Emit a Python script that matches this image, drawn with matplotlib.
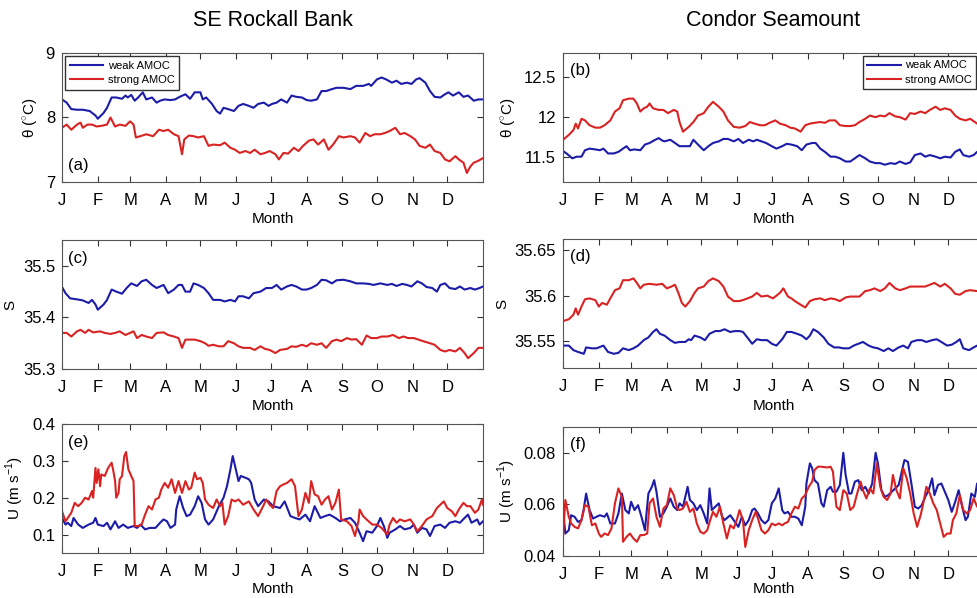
import matplotlib
matplotlib.use("Agg")
import matplotlib.pyplot as plt
from matplotlib.ticker import FuncFormatter

plt.rcParams["font.family"] = ["Liberation Sans", "DejaVu Sans"]
plt.rcParams["mathtext.fontset"] = "custom"
plt.rcParams["mathtext.rm"] = "Liberation Sans"

# month starts (day of year) and labels
month_days = [0, 31, 59, 90, 120, 151, 181, 212, 243, 273, 304, 334]
month_labels = ["J", "F", "M", "A", "M", "J", "J", "A", "S", "O", "N", "D"]

# ---- SE Rockall Bank : (day, value) ----
rock_theta_weak = [(0, 8.28), (4, 8.23), (8, 8.13), (13, 8.12), (18, 8.12), (24, 8.10), (29, 8.03), (31, 7.98), (36, 8.07), (39, 8.15), (43, 8.31), (47, 8.31), (52, 8.29), (55, 8.34), (57, 8.31), (60, 8.35), (63, 8.26), (66, 8.31), (70, 8.39), (73, 8.28), (78, 8.31), (82, 8.23), (85, 8.26), (89, 8.28), (94, 8.27), (98, 8.28), (102, 8.32), (107, 8.36), (111, 8.29), (115, 8.39), (120, 8.39), (122, 8.28), (125, 8.31), (130, 8.21), (134, 8.10), (137, 8.06), (140, 8.15), (144, 8.13), (149, 8.10), (153, 8.18), (157, 8.21), (162, 8.18), (166, 8.15), (170, 8.21), (175, 8.23), (179, 8.18), (182, 8.21), (186, 8.23), (190, 8.28), (195, 8.23), (199, 8.34), (203, 8.32), (208, 8.31), (212, 8.27), (216, 8.26), (221, 8.28), (225, 8.41), (229, 8.41), (234, 8.44), (238, 8.46), (244, 8.46), (250, 8.44), (255, 8.49), (261, 8.49), (266, 8.52), (268, 8.49), (273, 8.59), (277, 8.62), (281, 8.59), (286, 8.54), (290, 8.57), (294, 8.52), (299, 8.54), (303, 8.52), (307, 8.59), (310, 8.61), (315, 8.54), (319, 8.41), (323, 8.32), (328, 8.31), (332, 8.36), (335, 8.39), (339, 8.34), (344, 8.39), (348, 8.32), (352, 8.34), (357, 8.26), (361, 8.28), (365, 8.28)]
rock_theta_strong = [(0, 7.84), (4, 7.89), (8, 7.81), (13, 7.89), (16, 7.92), (18, 7.84), (22, 7.89), (26, 7.89), (30, 7.86), (34, 7.87), (39, 7.89), (42, 8.00), (46, 7.86), (50, 7.89), (55, 7.87), (59, 7.94), (62, 7.89), (64, 7.69), (68, 7.71), (73, 7.74), (79, 7.71), (84, 7.81), (88, 7.79), (92, 7.81), (97, 7.74), (101, 7.71), (104, 7.43), (106, 7.66), (110, 7.72), (114, 7.71), (118, 7.69), (123, 7.71), (127, 7.56), (131, 7.58), (137, 7.57), (141, 7.61), (146, 7.53), (150, 7.50), (154, 7.45), (159, 7.48), (163, 7.45), (167, 7.50), (172, 7.43), (176, 7.45), (180, 7.48), (185, 7.43), (188, 7.35), (192, 7.45), (196, 7.44), (201, 7.53), (205, 7.48), (209, 7.56), (214, 7.64), (218, 7.66), (222, 7.58), (227, 7.66), (231, 7.50), (235, 7.58), (240, 7.71), (244, 7.69), (250, 7.71), (254, 7.69), (258, 7.61), (263, 7.76), (267, 7.71), (271, 7.74), (276, 7.74), (280, 7.76), (284, 7.79), (289, 7.84), (293, 7.74), (297, 7.76), (302, 7.71), (306, 7.66), (310, 7.56), (315, 7.53), (319, 7.58), (323, 7.48), (328, 7.45), (332, 7.35), (336, 7.32), (341, 7.40), (344, 7.35), (348, 7.30), (351, 7.14), (354, 7.24), (357, 7.30), (360, 7.32), (365, 7.37)]
rock_sal_weak = [(0, 35.459), (3, 35.447), (7, 35.437), (13, 35.435), (18, 35.433), (23, 35.428), (26, 35.434), (29, 35.425), (31, 35.415), (36, 35.425), (39, 35.434), (43, 35.454), (47, 35.45), (52, 35.446), (56, 35.457), (60, 35.466), (65, 35.461), (69, 35.47), (73, 35.473), (78, 35.463), (82, 35.457), (88, 35.463), (92, 35.447), (97, 35.454), (101, 35.463), (104, 35.463), (107, 35.45), (111, 35.45), (114, 35.466), (118, 35.463), (123, 35.457), (127, 35.447), (131, 35.434), (137, 35.434), (141, 35.431), (146, 35.434), (150, 35.431), (153, 35.441), (157, 35.441), (162, 35.437), (166, 35.447), (172, 35.45), (177, 35.457), (182, 35.457), (186, 35.463), (190, 35.454), (195, 35.46), (199, 35.463), (203, 35.46), (208, 35.454), (212, 35.454), (216, 35.457), (221, 35.463), (225, 35.473), (229, 35.472), (234, 35.466), (238, 35.472), (244, 35.473), (250, 35.47), (255, 35.466), (261, 35.466), (266, 35.465), (270, 35.463), (276, 35.466), (282, 35.463), (286, 35.465), (290, 35.461), (295, 35.465), (299, 35.463), (303, 35.46), (308, 35.47), (312, 35.466), (316, 35.459), (321, 35.457), (325, 35.45), (328, 35.463), (332, 35.466), (336, 35.457), (341, 35.455), (345, 35.46), (349, 35.454), (354, 35.457), (358, 35.454), (362, 35.457), (365, 35.46)]
rock_sal_strong = [(0, 35.37), (4, 35.37), (8, 35.363), (13, 35.373), (16, 35.376), (20, 35.37), (23, 35.376), (27, 35.371), (33, 35.373), (37, 35.37), (42, 35.368), (46, 35.37), (50, 35.373), (55, 35.366), (59, 35.37), (62, 35.373), (65, 35.36), (69, 35.366), (73, 35.363), (78, 35.36), (82, 35.37), (88, 35.371), (92, 35.366), (97, 35.363), (101, 35.36), (104, 35.341), (107, 35.357), (111, 35.357), (115, 35.357), (120, 35.354), (124, 35.35), (127, 35.345), (131, 35.347), (136, 35.344), (140, 35.344), (144, 35.354), (149, 35.35), (153, 35.344), (157, 35.341), (163, 35.341), (167, 35.337), (172, 35.344), (176, 35.339), (180, 35.337), (185, 35.331), (189, 35.337), (195, 35.339), (199, 35.344), (203, 35.343), (208, 35.347), (212, 35.344), (216, 35.35), (221, 35.347), (225, 35.35), (229, 35.341), (234, 35.354), (238, 35.357), (242, 35.354), (247, 35.36), (251, 35.357), (255, 35.358), (260, 35.347), (264, 35.365), (268, 35.36), (273, 35.36), (277, 35.363), (282, 35.363), (287, 35.366), (292, 35.36), (296, 35.363), (300, 35.36), (305, 35.36), (309, 35.357), (313, 35.354), (319, 35.35), (323, 35.347), (328, 35.337), (332, 35.334), (336, 35.337), (341, 35.334), (345, 35.341), (349, 35.331), (352, 35.321), (357, 35.331), (361, 35.341), (365, 35.341)]
rock_u_weak = [(0, 0.145), (3, 0.127), (5, 0.132), (8, 0.123), (10, 0.145), (14, 0.127), (18, 0.118), (23, 0.127), (27, 0.132), (29, 0.145), (31, 0.127), (36, 0.123), (39, 0.132), (42, 0.114), (46, 0.136), (49, 0.118), (53, 0.127), (57, 0.118), (62, 0.123), (65, 0.118), (68, 0.127), (72, 0.114), (76, 0.118), (81, 0.118), (85, 0.132), (88, 0.141), (91, 0.136), (94, 0.118), (98, 0.127), (99, 0.168), (102, 0.204), (105, 0.172), (108, 0.15), (111, 0.154), (115, 0.177), (118, 0.204), (121, 0.186), (124, 0.141), (127, 0.127), (131, 0.141), (136, 0.177), (140, 0.2), (143, 0.231), (146, 0.277), (148, 0.313), (150, 0.286), (153, 0.245), (155, 0.259), (159, 0.254), (162, 0.25), (164, 0.24), (167, 0.195), (170, 0.177), (175, 0.195), (179, 0.19), (183, 0.177), (189, 0.172), (193, 0.19), (198, 0.15), (202, 0.145), (206, 0.141), (211, 0.154), (215, 0.136), (219, 0.177), (224, 0.145), (228, 0.15), (232, 0.154), (237, 0.145), (241, 0.136), (245, 0.141), (250, 0.145), (254, 0.132), (258, 0.105), (261, 0.082), (264, 0.109), (269, 0.105), (273, 0.123), (276, 0.145), (279, 0.123), (282, 0.091), (284, 0.105), (289, 0.114), (293, 0.123), (297, 0.114), (302, 0.118), (305, 0.127), (308, 0.105), (312, 0.118), (316, 0.114), (319, 0.096), (323, 0.123), (328, 0.127), (332, 0.118), (336, 0.132), (341, 0.136), (345, 0.132), (349, 0.145), (352, 0.154), (355, 0.132), (360, 0.141), (362, 0.127), (365, 0.136)]
rock_u_strong = [(0, 0.163), (3, 0.136), (5, 0.145), (8, 0.159), (11, 0.186), (14, 0.177), (17, 0.186), (20, 0.2), (23, 0.195), (26, 0.218), (27, 0.2), (29, 0.281), (30, 0.24), (31.5, 0.277), (33, 0.231), (34, 0.263), (37, 0.259), (40, 0.281), (43, 0.295), (44.5, 0.272), (46, 0.245), (47, 0.2), (49, 0.213), (50, 0.25), (52, 0.259), (54, 0.313), (55.5, 0.324), (57.5, 0.277), (60, 0.259), (62, 0.245), (63, 0.123), (66, 0.123), (69, 0.127), (72, 0.154), (75, 0.177), (78, 0.168), (81, 0.195), (84, 0.2), (86, 0.222), (89, 0.24), (92, 0.227), (95, 0.25), (98, 0.213), (101, 0.245), (104, 0.213), (107, 0.245), (110, 0.222), (112, 0.227), (115, 0.268), (117, 0.25), (120, 0.254), (122, 0.24), (124, 0.195), (127, 0.181), (131, 0.172), (134, 0.195), (137, 0.177), (139, 0.186), (141, 0.127), (144, 0.15), (147, 0.195), (150, 0.19), (153, 0.195), (157, 0.181), (162, 0.19), (166, 0.168), (170, 0.15), (175, 0.181), (177, 0.195), (180, 0.181), (183, 0.172), (186, 0.218), (189, 0.231), (192, 0.236), (195, 0.24), (199, 0.25), (202, 0.231), (205, 0.15), (208, 0.168), (211, 0.213), (214, 0.186), (216, 0.245), (219, 0.209), (222, 0.204), (225, 0.181), (228, 0.195), (231, 0.204), (234, 0.168), (237, 0.186), (240, 0.222), (242, 0.141), (247, 0.136), (251, 0.123), (254, 0.096), (257, 0.136), (258, 0.168), (261, 0.15), (264, 0.141), (269, 0.127), (273, 0.127), (277, 0.118), (282, 0.1), (284, 0.127), (287, 0.145), (290, 0.132), (293, 0.141), (297, 0.136), (302, 0.141), (305, 0.127), (308, 0.109), (312, 0.123), (316, 0.141), (321, 0.15), (325, 0.172), (328, 0.181), (331, 0.19), (334, 0.172), (338, 0.163), (341, 0.15), (344, 0.168), (348, 0.186), (351, 0.177), (354, 0.177), (358, 0.159), (361, 0.168), (364, 0.195), (365, 0.181)]

# ---- Condor Seamount : (day, value) ----
cond_theta_weak = [(0, 11.58), (3, 11.55), (8, 11.49), (12, 11.51), (16, 11.51), (19, 11.59), (23, 11.61), (28, 11.60), (32, 11.59), (35, 11.61), (39, 11.55), (44, 11.55), (48, 11.57), (52, 11.61), (55, 11.64), (58, 11.59), (62, 11.60), (67, 11.59), (71, 11.66), (75, 11.68), (80, 11.72), (83, 11.74), (86, 11.71), (88, 11.70), (93, 11.72), (97, 11.68), (101, 11.64), (106, 11.64), (110, 11.64), (113, 11.72), (117, 11.66), (122, 11.59), (126, 11.64), (130, 11.68), (135, 11.70), (139, 11.73), (143, 11.73), (148, 11.70), (152, 11.73), (156, 11.68), (161, 11.72), (165, 11.70), (168, 11.72), (172, 11.70), (176, 11.68), (181, 11.64), (185, 11.61), (190, 11.64), (194, 11.67), (198, 11.66), (203, 11.64), (207, 11.59), (211, 11.66), (216, 11.68), (219, 11.68), (223, 11.61), (227, 11.57), (232, 11.51), (236, 11.51), (240, 11.49), (245, 11.45), (249, 11.45), (253, 11.49), (257, 11.53), (262, 11.49), (266, 11.45), (271, 11.43), (275, 11.43), (279, 11.41), (284, 11.43), (288, 11.42), (292, 11.45), (297, 11.42), (301, 11.44), (305, 11.53), (310, 11.55), (314, 11.51), (318, 11.53), (323, 11.51), (327, 11.49), (331, 11.51), (336, 11.50), (340, 11.57), (344, 11.60), (347, 11.53), (352, 11.51), (356, 11.53), (359, 11.57), (365, 11.58)]
cond_theta_strong = [(0, 11.72), (5, 11.78), (9, 11.84), (11, 11.92), (13, 11.86), (16, 11.98), (19, 11.96), (23, 11.90), (28, 11.87), (32, 11.87), (36, 11.90), (41, 11.96), (45, 12.07), (49, 12.11), (52, 12.21), (57, 12.23), (61, 12.23), (64, 12.17), (67, 12.07), (70, 12.11), (73, 12.13), (75, 12.17), (78, 12.11), (83, 12.09), (87, 12.09), (91, 12.05), (96, 12.09), (99, 12.07), (101, 11.94), (104, 11.82), (109, 11.88), (113, 11.94), (117, 12.02), (122, 12.05), (126, 12.13), (130, 12.19), (135, 12.13), (139, 12.07), (143, 11.96), (148, 11.88), (153, 11.87), (158, 11.89), (162, 11.94), (166, 11.92), (171, 11.90), (175, 11.90), (179, 11.93), (184, 11.96), (188, 11.92), (193, 11.90), (197, 11.87), (201, 11.86), (206, 11.82), (210, 11.90), (214, 11.92), (218, 11.93), (223, 11.94), (227, 11.93), (231, 11.96), (236, 11.96), (240, 11.90), (245, 11.89), (249, 11.89), (253, 11.90), (257, 11.94), (262, 11.98), (266, 12.02), (271, 12.00), (275, 12.02), (279, 12.01), (283, 12.05), (288, 12.01), (292, 12.00), (297, 11.97), (301, 12.05), (305, 12.04), (310, 12.07), (314, 12.05), (318, 12.09), (323, 12.13), (327, 12.09), (331, 12.11), (336, 12.09), (340, 12.02), (344, 11.98), (349, 11.96), (353, 11.98), (359, 11.92), (365, 11.90)]
cond_sal_weak = [(0, 35.545), (5, 35.545), (9, 35.540), (13, 35.538), (18, 35.536), (20, 35.543), (25, 35.542), (29, 35.542), (35, 35.545), (39, 35.538), (44, 35.536), (48, 35.537), (52, 35.542), (57, 35.540), (61, 35.542), (65, 35.545), (70, 35.551), (74, 35.554), (78, 35.560), (81, 35.563), (84, 35.558), (88, 35.556), (93, 35.551), (97, 35.548), (101, 35.549), (106, 35.549), (109, 35.552), (111, 35.551), (114, 35.556), (119, 35.554), (123, 35.551), (127, 35.558), (132, 35.561), (136, 35.561), (140, 35.563), (145, 35.560), (149, 35.561), (153, 35.561), (156, 35.560), (161, 35.552), (164, 35.547), (168, 35.552), (172, 35.551), (177, 35.551), (181, 35.547), (185, 35.545), (190, 35.552), (194, 35.560), (198, 35.560), (203, 35.558), (207, 35.556), (211, 35.552), (214, 35.556), (217, 35.563), (221, 35.560), (226, 35.554), (230, 35.547), (235, 35.543), (239, 35.543), (243, 35.542), (248, 35.542), (252, 35.545), (256, 35.547), (260, 35.549), (265, 35.545), (269, 35.543), (273, 35.542), (278, 35.539), (282, 35.542), (286, 35.539), (291, 35.543), (295, 35.545), (299, 35.542), (302, 35.549), (307, 35.551), (311, 35.551), (315, 35.549), (320, 35.551), (324, 35.552), (328, 35.549), (333, 35.545), (337, 35.546), (341, 35.549), (344, 35.552), (347, 35.542), (352, 35.540), (356, 35.543), (359, 35.545), (365, 35.545)]
cond_sal_strong = [(0, 35.572), (5, 35.574), (9, 35.579), (11, 35.586), (13, 35.579), (16, 35.588), (19, 35.596), (23, 35.597), (28, 35.595), (31, 35.588), (34, 35.592), (38, 35.590), (41, 35.597), (45, 35.606), (49, 35.608), (52, 35.617), (57, 35.617), (61, 35.619), (64, 35.614), (67, 35.608), (70, 35.612), (75, 35.613), (81, 35.612), (86, 35.613), (90, 35.608), (94, 35.610), (97, 35.612), (100, 35.603), (103, 35.592), (106, 35.588), (110, 35.594), (114, 35.603), (117, 35.608), (122, 35.610), (126, 35.616), (130, 35.619), (135, 35.616), (139, 35.610), (143, 35.599), (148, 35.594), (153, 35.594), (158, 35.596), (164, 35.599), (168, 35.603), (172, 35.599), (177, 35.600), (182, 35.597), (188, 35.603), (191, 35.608), (195, 35.599), (198, 35.597), (201, 35.594), (206, 35.590), (210, 35.587), (214, 35.594), (218, 35.596), (223, 35.597), (227, 35.595), (232, 35.597), (236, 35.596), (240, 35.594), (245, 35.598), (249, 35.599), (253, 35.599), (257, 35.599), (262, 35.605), (266, 35.606), (270, 35.608), (275, 35.605), (279, 35.608), (283, 35.614), (288, 35.608), (292, 35.606), (297, 35.608), (301, 35.610), (305, 35.610), (310, 35.610), (314, 35.610), (318, 35.612), (322, 35.614), (327, 35.610), (331, 35.613), (336, 35.608), (340, 35.602), (344, 35.601), (349, 35.605), (353, 35.606), (359, 35.605), (365, 35.606)]
cond_u_weak = [(0, 0.0577), (2, 0.0486), (5, 0.0499), (7, 0.0557), (10, 0.0551), (13, 0.0531), (16, 0.0538), (18, 0.0583), (20, 0.0641), (23, 0.0577), (26, 0.0544), (29, 0.0551), (32, 0.0557), (36, 0.0551), (38, 0.0564), (41, 0.0525), (45, 0.0525), (48, 0.0564), (51, 0.0641), (54, 0.0577), (57, 0.0564), (59, 0.0609), (62, 0.0577), (65, 0.0596), (68, 0.0551), (71, 0.0499), (74, 0.0641), (77, 0.0667), (79, 0.0693), (81, 0.0648), (84, 0.0551), (87, 0.0564), (90, 0.0590), (93, 0.0622), (96, 0.0590), (99, 0.0577), (101, 0.0603), (104, 0.0590), (108, 0.0667), (110, 0.0616), (113, 0.0603), (116, 0.0577), (119, 0.0596), (122, 0.0564), (125, 0.0525), (127, 0.0661), (129, 0.0577), (132, 0.0590), (135, 0.0603), (138, 0.0551), (140, 0.0538), (145, 0.0557), (149, 0.0531), (152, 0.0512), (155, 0.0551), (158, 0.0518), (161, 0.0538), (164, 0.0577), (166, 0.0583), (169, 0.0564), (172, 0.0538), (175, 0.0525), (178, 0.0538), (181, 0.0603), (184, 0.0622), (187, 0.0661), (190, 0.0577), (192, 0.0564), (195, 0.0570), (198, 0.0551), (201, 0.0551), (204, 0.0544), (207, 0.0518), (210, 0.0590), (211, 0.0680), (214, 0.0758), (216, 0.0739), (218, 0.0693), (221, 0.0680), (224, 0.0603), (226, 0.0590), (229, 0.0654), (232, 0.0667), (234, 0.0648), (237, 0.0648), (240, 0.0674), (243, 0.0799), (245, 0.0713), (248, 0.0641), (250, 0.0641), (253, 0.0687), (256, 0.0693), (259, 0.0654), (262, 0.0667), (265, 0.0641), (268, 0.0680), (271, 0.0799), (273, 0.0758), (276, 0.0654), (279, 0.0628), (282, 0.0635), (285, 0.0648), (288, 0.0661), (291, 0.0674), (294, 0.0732), (296, 0.0771), (299, 0.0764), (302, 0.0680), (305, 0.0590), (308, 0.0583), (311, 0.0596), (314, 0.0628), (317, 0.0654), (320, 0.0700), (322, 0.0635), (325, 0.0674), (328, 0.0680), (331, 0.0648), (334, 0.0616), (337, 0.0570), (340, 0.0609), (343, 0.0654), (346, 0.0590), (349, 0.0538), (351, 0.0551), (354, 0.0641), (357, 0.0628), (359, 0.0680), (365, 0.0660)]
cond_u_strong = [(0, 0.0473), (2, 0.0616), (5, 0.0551), (7, 0.0525), (10, 0.0512), (13, 0.0506), (16, 0.0538), (19, 0.0596), (22, 0.0590), (25, 0.0518), (28, 0.0525), (31, 0.0486), (33, 0.0473), (36, 0.0486), (39, 0.0480), (42, 0.0506), (45, 0.0603), (48, 0.0661), (51, 0.0628), (52, 0.0454), (55, 0.0473), (58, 0.0486), (61, 0.0467), (64, 0.0454), (67, 0.0480), (70, 0.0480), (73, 0.0486), (75, 0.0603), (78, 0.0622), (81, 0.0551), (84, 0.0512), (87, 0.0583), (90, 0.0596), (93, 0.0661), (96, 0.0635), (99, 0.0583), (101, 0.0577), (104, 0.0583), (107, 0.0609), (110, 0.0570), (113, 0.0583), (116, 0.0525), (119, 0.0493), (122, 0.0486), (125, 0.0499), (128, 0.0544), (130, 0.0570), (133, 0.0551), (136, 0.0590), (139, 0.0525), (142, 0.0467), (145, 0.0518), (148, 0.0506), (151, 0.0544), (153, 0.0577), (156, 0.0538), (158, 0.0434), (161, 0.0499), (164, 0.0538), (167, 0.0570), (169, 0.0544), (172, 0.0499), (175, 0.0486), (178, 0.0499), (181, 0.0525), (184, 0.0518), (187, 0.0525), (190, 0.0518), (192, 0.0525), (195, 0.0531), (198, 0.0564), (201, 0.0590), (204, 0.0583), (207, 0.0622), (210, 0.0635), (213, 0.0667), (216, 0.0687), (218, 0.0732), (221, 0.0745), (224, 0.0745), (229, 0.0742), (232, 0.0745), (234, 0.0726), (237, 0.0590), (240, 0.0577), (243, 0.0654), (246, 0.0641), (249, 0.0577), (252, 0.0590), (255, 0.0641), (258, 0.0687), (260, 0.0654), (263, 0.0622), (266, 0.0661), (269, 0.0641), (272, 0.0758), (275, 0.0667), (278, 0.0628), (281, 0.0616), (284, 0.0641), (286, 0.0713), (289, 0.0654), (292, 0.0622), (295, 0.0739), (298, 0.0700), (301, 0.0641), (304, 0.0564), (307, 0.0512), (310, 0.0557), (312, 0.0596), (315, 0.0667), (318, 0.0641), (321, 0.0603), (324, 0.0577), (327, 0.0525), (330, 0.0473), (333, 0.0486), (336, 0.0486), (338, 0.0538), (341, 0.0564), (344, 0.0635), (347, 0.0577), (350, 0.0564), (353, 0.0577), (356, 0.0622), (359, 0.0590), (365, 0.0600)]

WEAK = "#1c1ca8"
STRONG = "#d92323"

fig = plt.figure(figsize=(9.77, 5.98), dpi=100)

# axes rectangles in figure fraction (right column runs past the figure edge, as in the original)
left_x, right_x, w, h = 0.0635, 0.5763, 0.4309, 0.2157
theta_lab = "θ ($^{\\circ}$C)"
u_lab = "U (m s$^{-1}$)"
panels = [
    # rect, weak, strong, ylim, yticks, ylabel, tag, tag_xy, month labelpad
    ((left_x, 0.6957, w, h), rock_theta_weak, rock_theta_strong, (7, 9), [7, 8, 9],
     theta_lab, "(a)", (0.014, 0.125), 3),
    ((right_x, 0.6962, w, h), cond_theta_weak, cond_theta_strong, (11.2, 12.8), [11.5, 12, 12.5],
     theta_lab, "(b)", (0.017, 0.86), 3),
    ((left_x, 0.3829, w, h), rock_sal_weak, rock_sal_strong, (35.3, 35.55), [35.3, 35.4, 35.5],
     "S", "(c)", (0.014, 0.86), 3),
    ((right_x, 0.3841, w, h), cond_sal_weak, cond_sal_strong, (35.52, 35.662), [35.55, 35.6, 35.65],
     "S", "(d)", (0.017, 0.87), 3),
    ((left_x, 0.0753, w, h), rock_u_weak, rock_u_strong, (0.05, 0.4), [0.1, 0.2, 0.3, 0.4],
     u_lab, "(e)", (0.014, 0.86), 2),
    ((right_x, 0.0707, w, h), cond_u_weak, cond_u_strong, (0.04, 0.09), [0.04, 0.06, 0.08],
     u_lab, "(f)", (0.017, 0.86), 0),
]

axes = []
for rect, weak, strong, ylim, yticks, ylabel, tag, tag_xy, mpad in panels:
    ax = fig.add_axes(rect)
    d, v = zip(*weak)
    ax.plot(d, v, color=WEAK, lw=1.5, label="weak AMOC")
    d, v = zip(*strong)
    ax.plot(d, v, color=STRONG, lw=1.5, label="strong AMOC")
    ax.set_xlim(0, 365)
    ax.set_ylim(*ylim)
    ax.set_xticks(month_days)
    ax.set_xticklabels(month_labels)
    ax.set_yticks(yticks)
    ax.yaxis.set_major_formatter(FuncFormatter(lambda y, _: f"{y:g}"))
    ax.tick_params(direction="in", top=True, right=True, length=4, width=0.8,
                   labelsize=12, color="#333333")
    ax.tick_params(axis="x", pad=8)
    ax.tick_params(axis="y", pad=5)
    for s in ax.spines.values():
        s.set_color("#555555")
        s.set_linewidth(0.8)
    ax.set_xlabel("Month", fontsize=11, labelpad=mpad)
    ax.set_ylabel(ylabel, fontsize=11, labelpad=4)
    ax.text(tag_xy[0], tag_xy[1], tag, transform=ax.transAxes, fontsize=12, va="center")
    axes.append(ax)

leg_kw = dict(fontsize=8, handlelength=3.0, fancybox=False, framealpha=1,
              edgecolor="#333333", borderpad=0.4, labelspacing=0.4, handletextpad=0.4)
axes[0].legend(loc="upper left", bbox_to_anchor=(0.0, 1.0), borderaxespad=0.3, **leg_kw)
axes[1].legend(loc="upper right", bbox_to_anchor=(0.99, 1.0), bbox_transform=axes[1].transAxes,
               borderaxespad=0.3, **leg_kw)

fig.text(0.279, 0.965, "SE Rockall Bank", ha="center", va="center", fontsize=15.5)
fig.text(0.791, 0.965, "Condor Seamount", ha="center", va="center", fontsize=15.5)

fig.savefig("out.png", dpi=100)
